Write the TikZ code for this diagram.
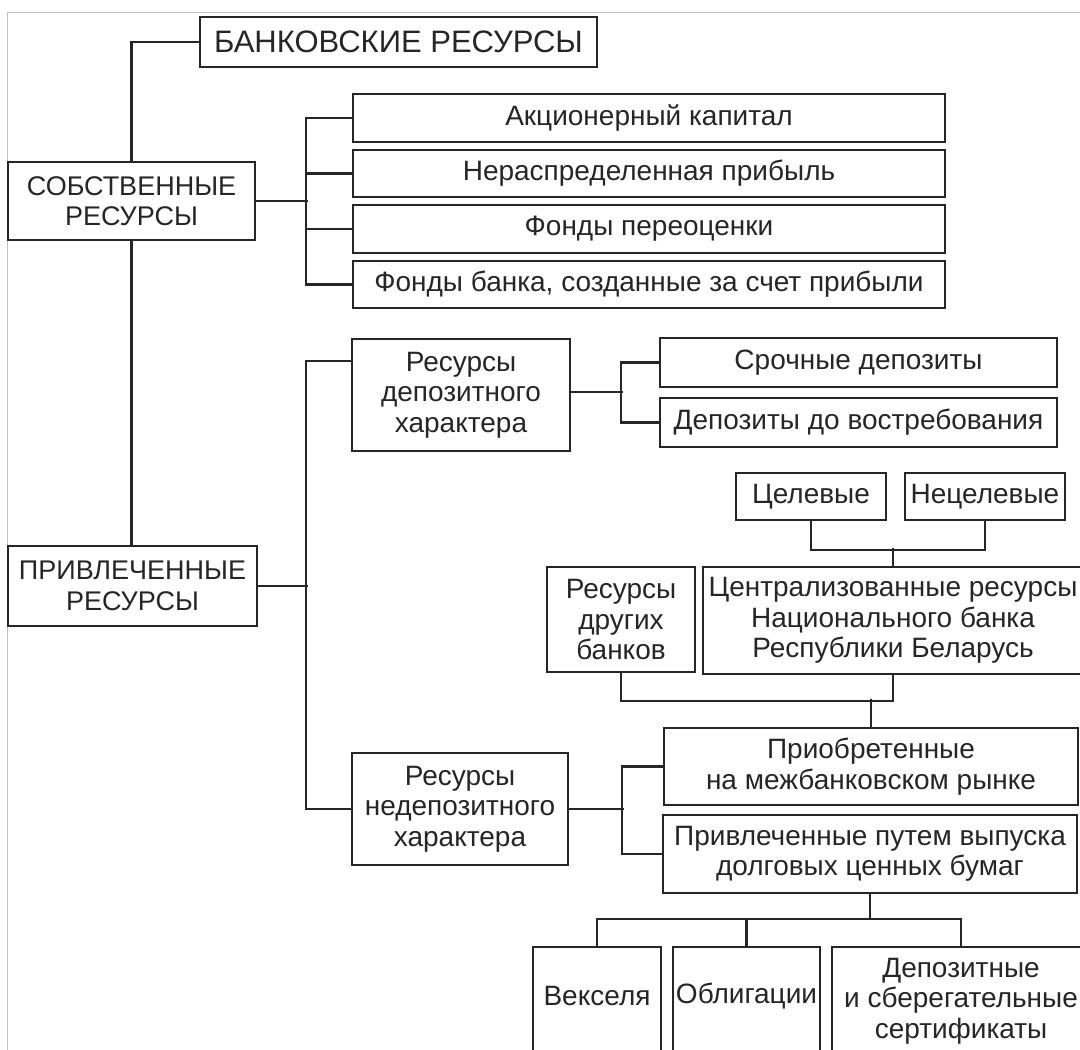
\documentclass[tikz,border=0pt]{standalone}
\usepackage{fontspec}
\setmainfont{Liberation Sans}
\begin{document}
\begin{tikzpicture}[x=1pt,y=-1pt,
  box/.style={draw=black!85, line width=2.2pt, inner sep=0pt, align=center, text=black!85,
     font=\fontsize{28}{30.5}\selectfont},
  capsbox/.style={box, font=\fontsize{27}{30.5}\selectfont},
  conn/.style={draw=black!85, line width=2.2pt},
  txt/.style={inner sep=0pt, align=center, text=black!85, font=\fontsize{28}{30.5}\selectfont}]
\useasboundingbox (0,0) rectangle (1080,1050);
\clip (0,0) rectangle (1080,1050);
\fill[white] (0,0) rectangle (1080,1050);
\draw[black!25, line width=0.8pt] (7.5,1050) -- (7.5,12) -- (1080,12);
% nodes
\node[box, minimum width=397, minimum height=50, font=\fontsize{31}{34}\selectfont] (bank) at (398.5,42) {БАНКОВСКИЕ РЕСУРСЫ};
\node[capsbox, minimum width=247, minimum height=78] (own) at (131.5,201) {СОБСТВЕННЫЕ\\РЕСУРСЫ};
\node[box, minimum width=592, minimum height=48] (a1) at (649,118) {Акционерный капитал};
\node[box, minimum width=592, minimum height=47] (a2) at (649,173.5) {Нераспределенная прибыль};
\node[box, minimum width=592, minimum height=48] (a3) at (649,229) {Фонды переоценки};
\node[box, minimum width=592, minimum height=47] (a4) at (649,284.5) {Фонды банка, созданные за счет прибыли};
\node[capsbox, minimum width=249, minimum height=80] (att) at (132.5,586) {ПРИВЛЕЧЕННЫЕ\\РЕСУРСЫ};
\node[box, minimum width=218, minimum height=112] (dep) at (461,395) {Ресурсы\\депозитного\\характера};
\node[box, minimum width=397, minimum height=49] (d1) at (858.5,362.5) {Срочные депозиты};
\node[box, minimum width=397, minimum height=49] (d2) at (858.5,422.5) {Депозиты до востребования};
\node[box, minimum width=150, minimum height=47] (cel) at (811,496.5) {Целевые};
\node[box, minimum width=160, minimum height=47] (ncel) at (985,496.5) {Нецелевые};
\node[box, minimum width=148, minimum height=105] (oth) at (621,619.5) {Ресурсы\\других\\банков};
\node[box, minimum width=380, minimum height=107] (cen) at (893,620.5) {Централизованные ресурсы\\Национального банка\\Республики Беларусь};
\node[box, minimum width=414, minimum height=77] (acq) at (871,766.5) {Приобретенные\\на межбанковском рынке};
\node[box, minimum width=414, minimum height=78] (iss) at (870,854) {Привлеченные путем выпуска\\долговых ценных бумаг};
\node[box, minimum width=216, minimum height=112] (ndep) at (460,809) {Ресурсы\\недепозитного\\характера};
\node[box, minimum width=128, minimum height=160, anchor=north] (veks) at (597,946) {};
\node[box, minimum width=147, minimum height=160, anchor=north] (obl) at (746.5,946) {};
\node[box, minimum width=258, minimum height=160, anchor=north] (dc) at (961,946) {};
\node[txt] (vekst) at (597,996) {Векселя};
\node[txt] (oblt) at (746.5,996) {Облигации};
\node[txt] (dct) at (961,1001) {Депозитные\\и сберегательные\\сертификаты};
% connectors
\draw[conn] (bank.west) -| (own.north);
\draw[conn] (own.east) -- ++(52,0);
\draw[conn] (a1.west) -- ++(-46,0) |- (a4.west);
\draw[conn] (a2.west) -- ++(-46,0);
\draw[conn] (a3.west) -- ++(-46,0);
\draw[conn] (own.south) -- (own.south |- att.north);
\draw[conn] (att.east) -- ++(50,0);
\draw[conn] ([yshift=-23pt]dep.north west) -- ++(-45,0) |- (ndep.west);
\draw[conn] ([yshift=3pt]dep.east) -- ++(52,0);
\draw[conn] (d1.west) -- ++(-38,0) |- (d2.west);
\draw[conn] (cel.south) -- ++(0,29) -| (ncel.south);
\draw[conn] (cen.north) -- ++(0,-18);
\draw[conn] (oth.south) -- ++(0,28) -| (cen.south);
\draw[conn] (acq.north) -- ++(0,-28);
\draw[conn] (ndep.east) -- ++(55,0);
\draw[conn] (acq.west) -- ++(-41,0) |- (iss.west);
\draw[conn] (iss.south) -- ++(0,26);
\draw[conn] (veks.north) -- ++(0,-27) -| (dc.north);
\draw[conn] (obl.north) -- ++(0,-27);
\end{tikzpicture}
\end{document}
